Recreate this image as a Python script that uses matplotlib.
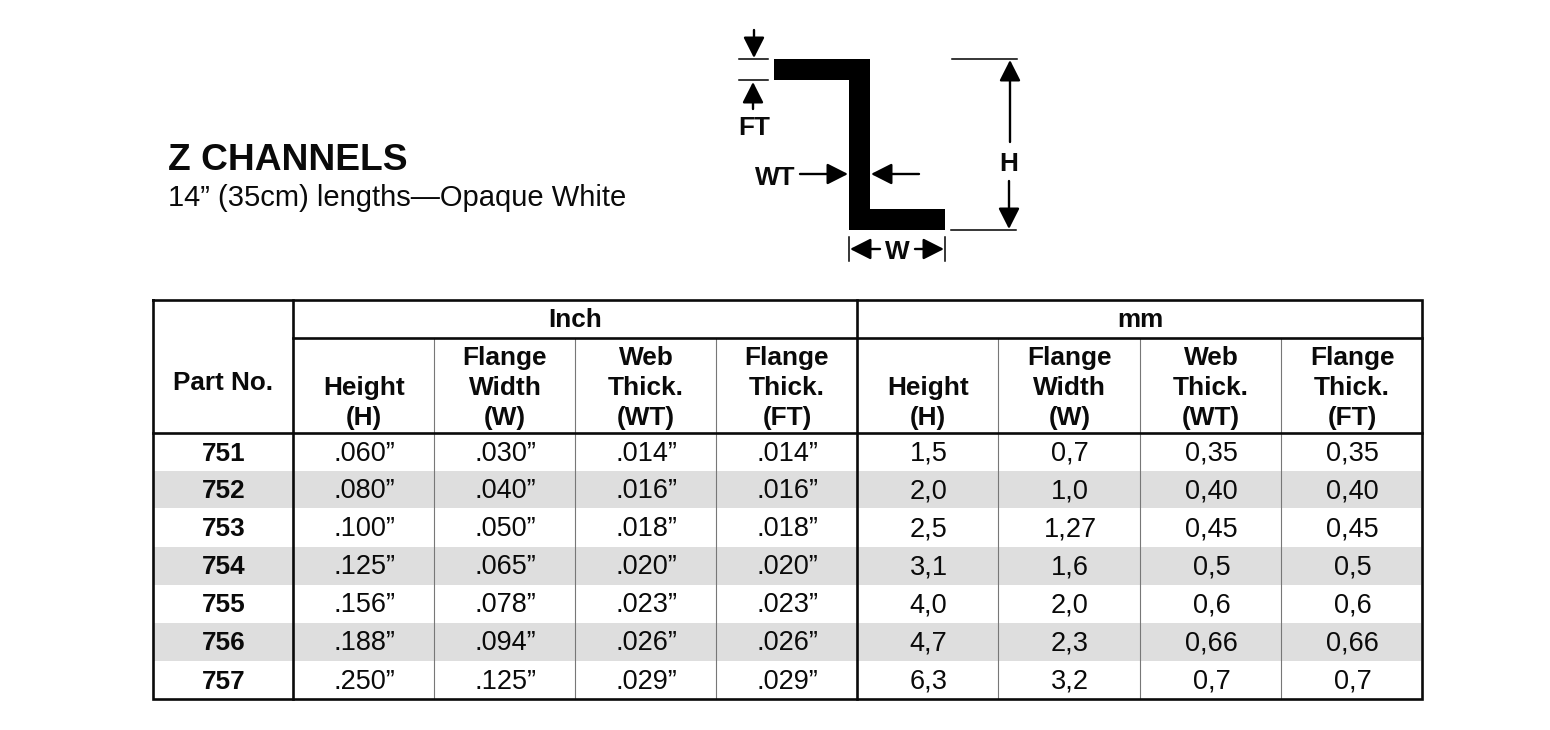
import matplotlib
matplotlib.use("Agg")
import matplotlib.pyplot as plt
from matplotlib.patches import Polygon, Rectangle

plt.rcParams['font.family'] = ['Liberation Sans', 'DejaVu Sans']

title = "Z CHANNELS"
subtitle = "14” (35cm) lengths—Opaque White"

part_no = ["751", "752", "753", "754", "755", "756", "757"]
height_in = [".060”", ".080”", ".100”", ".125”", ".156”", ".188”", ".250”"]
flange_w_in = [".030”", ".040”", ".050”", ".065”", ".078”", ".094”", ".125”"]
web_t_in = [".014”", ".016”", ".018”", ".020”", ".023”", ".026”", ".029”"]
flange_t_in = [".014”", ".016”", ".018”", ".020”", ".023”", ".026”", ".029”"]
height_mm = ["1,5", "2,0", "2,5", "3,1", "4,0", "4,7", "6,3"]
flange_w_mm = ["0,7", "1,0", "1,27", "1,6", "2,0", "2,3", "3,2"]
web_t_mm = ["0,35", "0,40", "0,45", "0,5", "0,6", "0,66", "0,7"]
flange_t_mm = ["0,35", "0,40", "0,45", "0,5", "0,6", "0,66", "0,7"]

col_heads = [["Height", "(H)"], ["Flange", "Width", "(W)"], ["Web", "Thick.", "(WT)"], ["Flange", "Thick.", "(FT)"]]

# table geometry in pixels
col_x = [153, 293, 434, 575, 716, 857, 998, 1140, 1281, 1422]
row_y = [433, 470.5, 508, 546.5, 584.5, 622.5, 661, 699]
INK = "#0a0a0a"
THICK = 1.9
THIN = 0.8

fig = plt.figure(figsize=(15.5, 7.3), dpi=100)
ax = fig.add_axes([0, 0, 1, 1])
ax.set_xlim(0, 1550)
ax.set_ylim(730, 0)
ax.axis("off")

ax.text(168, 170.5, title, fontsize=26.7, fontweight="bold", color=INK)
ax.text(168, 206, subtitle, fontsize=21, color=INK)

# gray rows
for i in range(1, 7, 2):
    ax.add_patch(Rectangle((154, row_y[i]), 1267, row_y[i + 1] - row_y[i], color="#dedede", lw=0, zorder=1))

# thin column lines
for x in col_x[2:5] + col_x[6:9]:
    ax.plot([x, x], [338, 699], color="#777777", lw=THIN, zorder=2)

# thick lines
ax.plot([153, 1422, 1422, 153, 153], [300, 300, 699, 699, 300], color=INK, lw=THICK, zorder=3, solid_joinstyle="miter")
ax.plot([293, 293], [300, 699], color=INK, lw=THICK, zorder=3)
ax.plot([857, 857], [300, 699], color=INK, lw=THICK, zorder=3)
ax.plot([293, 1422], [338, 338], color=INK, lw=THICK, zorder=3)
ax.plot([153, 1422], [433, 433], color=INK, lw=THICK, zorder=3)

# headers
ax.text(223, 390, "Part No.", fontsize=18.8, fontweight="bold", ha="center", color=INK, zorder=4)
ax.text(575, 327, "Inch", fontsize=18.8, fontweight="bold", ha="center", color=INK, zorder=4)
ax.text(1140, 327, "mm", fontsize=18.8, fontweight="bold", ha="center", color=INK, zorder=4)
for start in (1, 5):
    for k, head in enumerate(col_heads):
        xc = (col_x[start + k] + col_x[start + k + 1]) / 2 + 0.5
        for j, line in enumerate(reversed(head)):
            ax.text(xc, 425 - j * 30, line, fontsize=18.9, fontweight="bold", ha="center", color=INK, zorder=4)

# body
columns = [height_in, flange_w_in, web_t_in, flange_t_in, height_mm, flange_w_mm, web_t_mm, flange_t_mm]
for i in range(len(part_no)):
    base = row_y[i] + 28
    ax.text(223.5, base, part_no[i], fontsize=18.8, fontweight="bold", ha="center", color=INK, zorder=4)
    for k, col in enumerate(columns):
        xc = (col_x[k + 1] + col_x[k + 2]) / 2 + 1
        ax.text(xc, base, col[i], fontsize=19.5, ha="center", color=INK, zorder=4)

# Z section drawing
ax.add_patch(Polygon([(774, 59), (870, 59), (870, 209), (945, 209), (945, 230), (849, 230), (849, 80), (774, 80)],
                     closed=True, color="black", lw=0))


def arrow(x0, y0, x1, y1):
    ax.annotate("", xy=(x1, y1), xytext=(x0, y0),
                arrowprops=dict(arrowstyle="-|>,head_length=0.75,head_width=0.38", mutation_scale=17,
                                color="black", lw=1.7, shrinkA=0, shrinkB=0))


def tick(x0, y0, x1, y1):
    ax.plot([x0, x1], [y0, y1], color="black", lw=1.1)


tick(739, 59, 768, 59)
tick(739, 79.5, 768, 79.5)
arrow(754, 30, 754, 58)
arrow(753, 109, 753, 82)
tick(952, 59, 1017, 59)
tick(951, 230, 1016, 230)
arrow(1010, 142, 1010, 60)
arrow(1009, 181, 1009, 229)
arrow(800, 174, 848, 174)
arrow(919, 174, 871, 174)
tick(849, 237, 849, 261)
tick(945, 237, 945, 261)
arrow(880, 249, 850, 249)
arrow(915, 249, 944, 249)

for x, y, s in [(754, 135, "FT"), (775, 185, "WT"), (1009, 171, "H"), (897, 259, "W")]:
    ax.text(x, y, s, fontsize=18.8, fontweight="bold", ha="center", color=INK)

fig.savefig("out.png", dpi=100, facecolor="white")
